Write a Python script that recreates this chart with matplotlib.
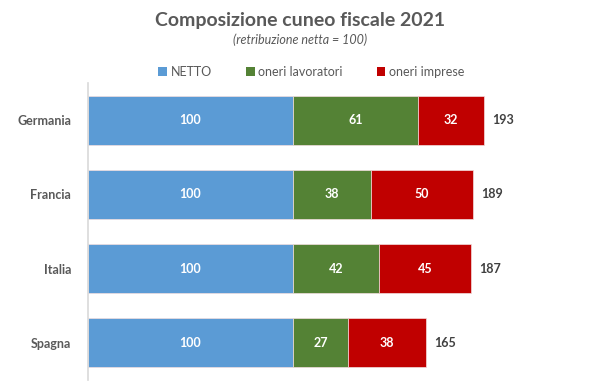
import matplotlib.pyplot as plt
from matplotlib.patches import Patch

plt.rcParams['font.family'] = ['Lato', 'DejaVu Sans']

paesi = ['Germania', 'Francia', 'Italia', 'Spagna']
netto = [100, 100, 100, 100]
oneri_lav = [61, 38, 42, 27]
oneri_imp = [32, 50, 45, 38]
totale = [193, 189, 187, 165]

serie = ['NETTO', 'oneri lavoratori', 'oneri imprese']
colori = ['#5B9BD5', '#548235', '#C00000']

fig = plt.figure(figsize=(6, 3.92), dpi=100)
ax = fig.add_axes([88 / 600, 12 / 392, 492 / 600, 297 / 392])

y = range(len(paesi))
left = [0] * len(paesi)
for vals, col in zip([netto, oneri_lav, oneri_imp], colori):
    bars = ax.barh(y, vals, left=left, height=0.66, color=col,
                   edgecolor='#f2dede', linewidth=0.5)
    for b, v in zip(bars, vals):
        ax.text(b.get_x() + b.get_width() / 2, b.get_y() + b.get_height() / 2,
                str(v), ha='center', va='center', color='white',
                fontsize=9, fontweight='bold')
    left = [l + v for l, v in zip(left, vals)]

for i, t in enumerate(totale):
    ax.text(left[i] + 4, i, str(t), ha='left', va='center',
            color='#404040', fontsize=9, fontweight='bold')

ax.set_xlim(0, 240)
ax.set_ylim(3.5, -0.5)
ax.set_yticks(list(y))
ax.set_yticklabels(paesi, fontsize=9, fontweight='bold', color='#595959')
ax.tick_params(axis='y', length=0, pad=12)
ax.set_xticks([])
for s in ['top', 'right', 'bottom']:
    ax.spines[s].set_visible(False)
ax.spines['left'].set_color('#d9d9d9')
ax.spines['left'].set_linewidth(1.2)

fig.text(0.5, 0.948, 'Composizione cuneo fiscale 2021', ha='center', va='center',
         fontsize=14, fontweight='bold', color='#595959')
fig.text(0.5, 0.898, '(retribuzione netta = 100)', ha='center', va='center',
         fontsize=9, style='italic', color='#595959')

handles = [Patch(facecolor=c, edgecolor='none') for c in colori]
fig.legend(handles, serie, loc='center', bbox_to_anchor=(0.519, 0.817), ncol=3,
           frameon=False, fontsize=9, handlelength=0.7, handleheight=0.7,
           handletextpad=0.3, columnspacing=2.7, labelcolor='#595959')

fig.savefig('out.png', dpi=100)
